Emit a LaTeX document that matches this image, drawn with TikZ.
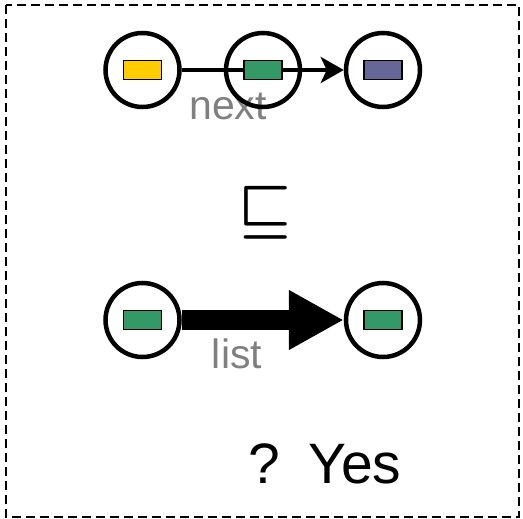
\RequirePackage{fix-cm}
\documentclass[tikz,border=0pt]{standalone}
\usepackage{bm}
\usepackage{fontspec}
\setmainfont{Liberation Sans}
\usetikzlibrary{arrows.meta}
\definecolor{valyellow}{RGB}{255,204,0}
\definecolor{valgreen}{RGB}{51,153,102}
\definecolor{valpurple}{RGB}{102,102,153}
\definecolor{labelgray}{RGB}{128,128,128}

\begin{document}
\begin{tikzpicture}[x = 1pt, y = -1pt,
	cell/.style = {draw, circle, line width = 4.5pt, minimum size = 74pt, inner sep = 0pt},
	val/.style = {draw, rectangle, line width = 1.2pt, minimum width = 38pt, minimum height = 19pt, inner sep = 0pt},
	lbl/.style = {anchor = base, text = labelgray, font = \fontsize{41}{41}\selectfont}]
	\useasboundingbox (0,0) rectangle (523,519);
	\draw [dash pattern = on 9pt off 5pt, line width = 1.6pt] (6,5) rectangle (519,517);
	\node [lbl] (next) at (228,120) {next};
	\node [lbl] (list) at (237,368) {list};
	\node [cell] (a1) at (142.5,70) {};
	\node [cell] (a2) at (263,70) {};
	\node [cell] (a3) at (383,70) {};
	\node [cell] (b1) at (142.5,320) {};
	\node [cell] (b2) at (383,320) {};
	\draw [line width = 4.5pt, -{Stealth[length = 23pt, width = 26pt, inset = 6pt]}] (a1) -- (a3);
	\draw [line width = 20pt, -{Triangle[length = 55pt, width = 56pt]}] (b1) -- (b2);
	\node [val, fill = valyellow] (v1) at (a1) {};
	\node [val, fill = valgreen] (v2) at (a2) {};
	\node [val, fill = valpurple] (v3) at (a3) {};
	\node [val, fill = valgreen] (w1) at (b1) {};
	\node [val, fill = valgreen] (w2) at (b2) {};
	\node (leq) at (265,213) {\fontsize{59}{59}\selectfont $\bm{\sqsubseteq}$};
	\node [anchor = base] (ans) at (325,483) {\fontsize{57}{57}\selectfont ?\hspace{7pt} Yes};
\end{tikzpicture}
\end{document}
